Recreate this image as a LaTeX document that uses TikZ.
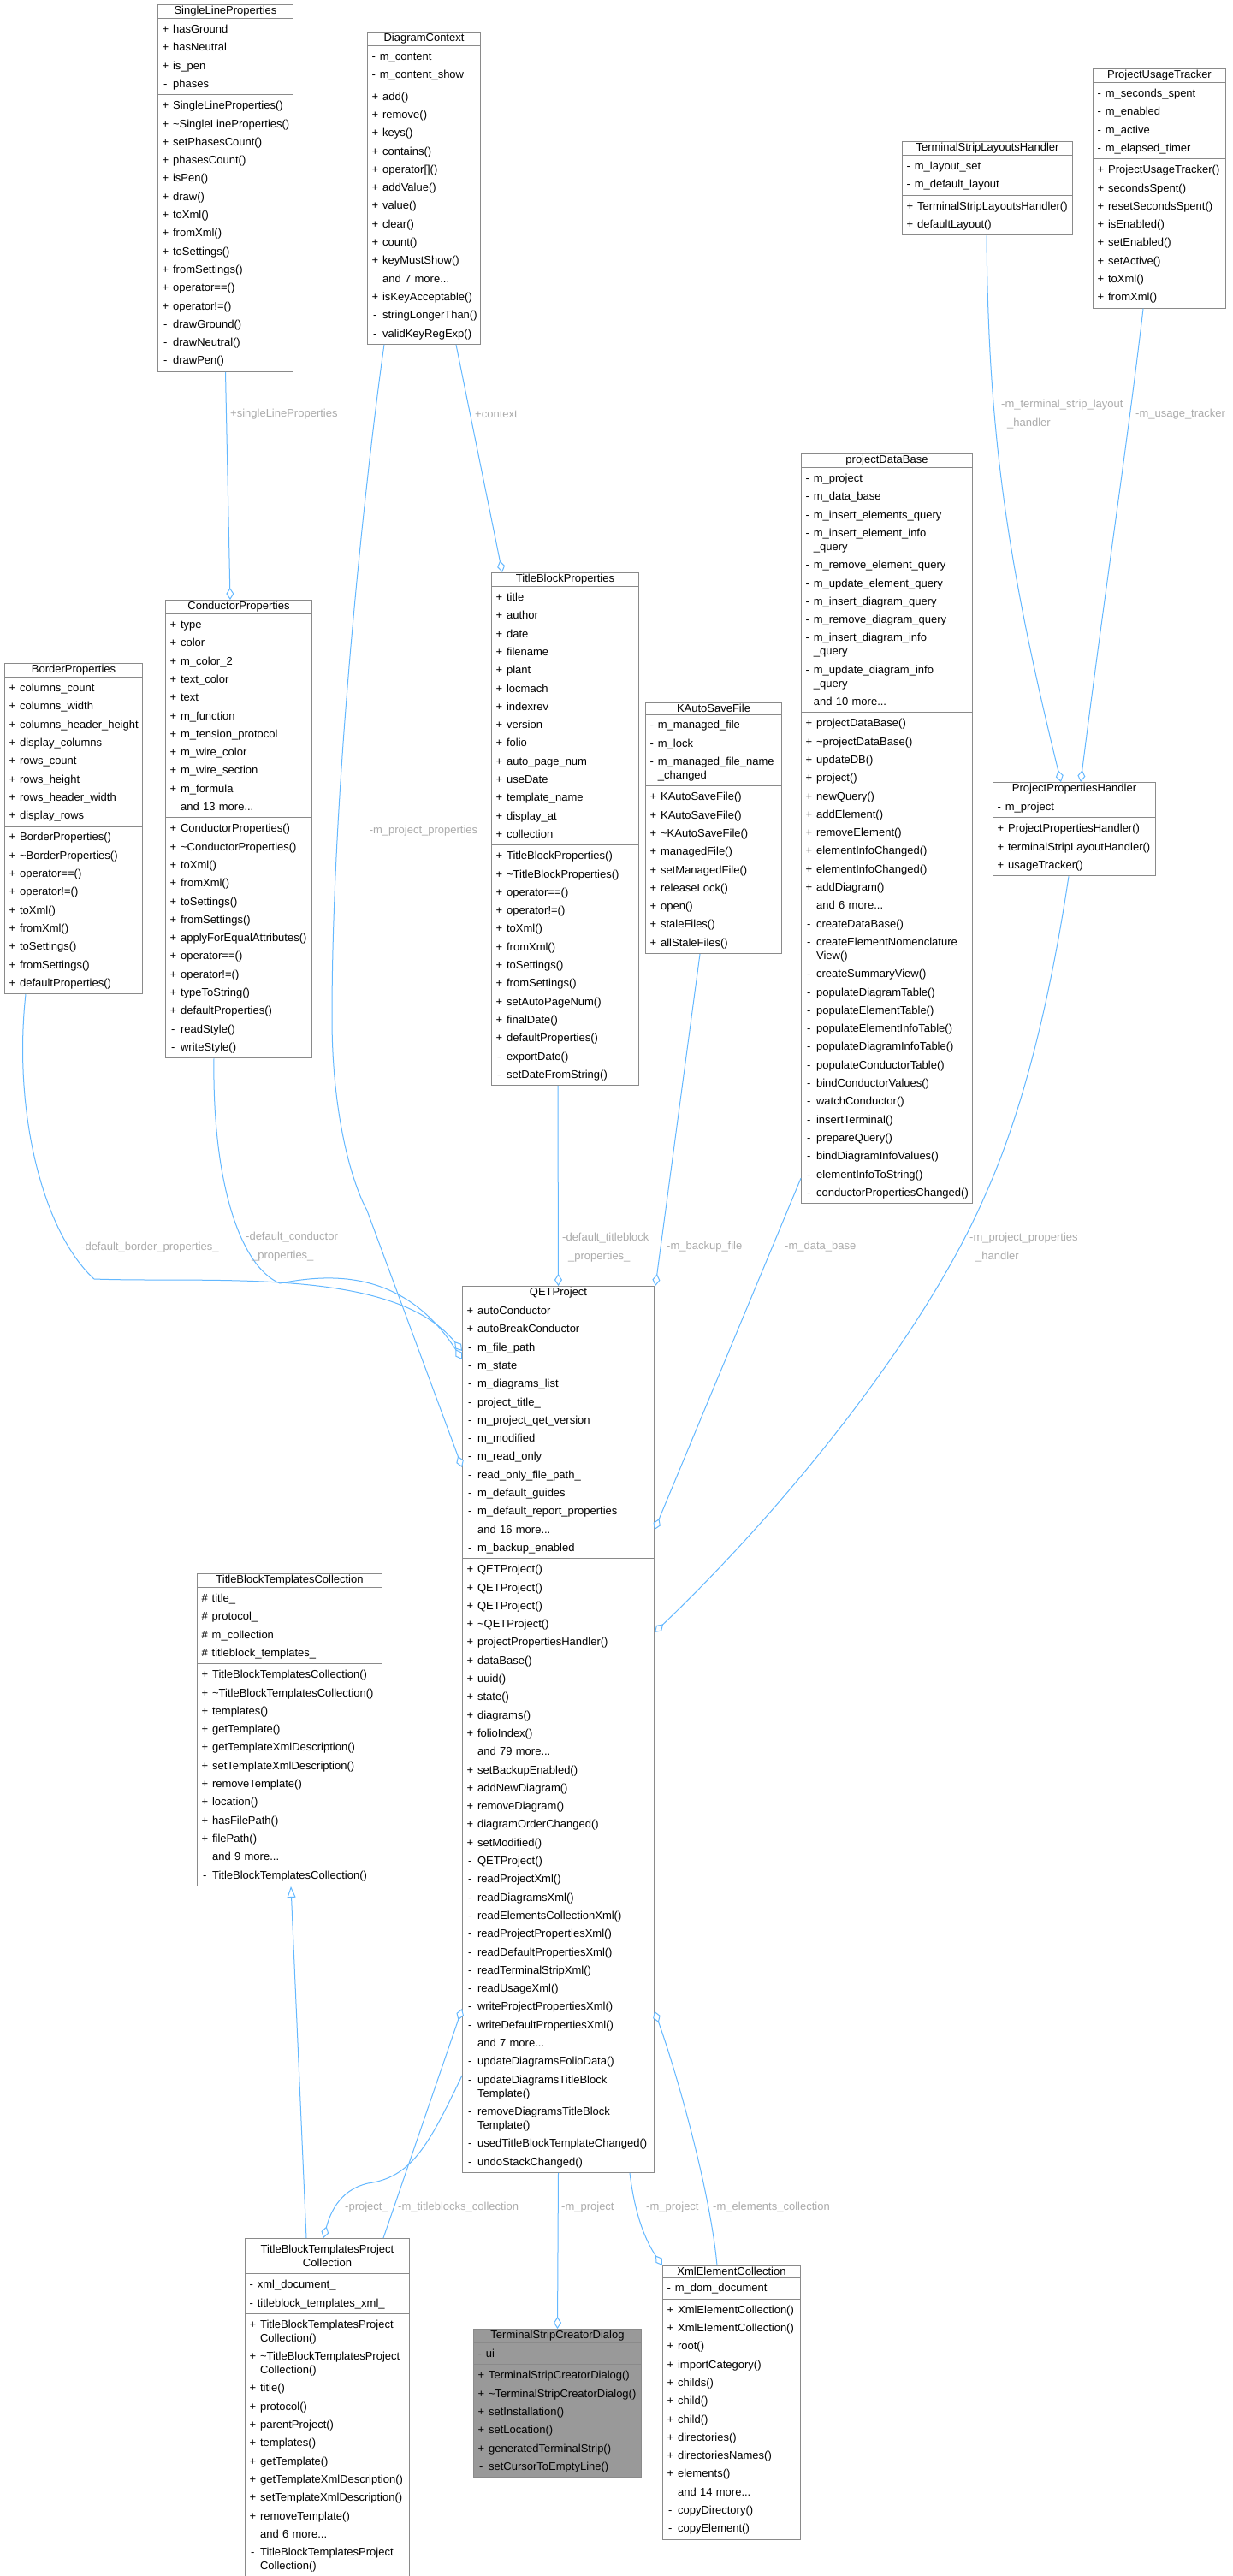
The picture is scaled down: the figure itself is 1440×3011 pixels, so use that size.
\documentclass[tikz,border=0pt]{standalone}
\usepackage{fontspec}
\setmainfont{Liberation Sans}
\usetikzlibrary{shapes.multipart,arrows.meta}
\definecolor{edgeblue}{HTML}{63B8FF}
\definecolor{lblgray}{HTML}{ABABAB}
\definecolor{boxgray}{HTML}{8A8A8A}
\definecolor{tscdgray}{HTML}{999999}
\newcommand\tld{\textasciitilde}
\newcommand\R[2]{#1 & #2\\}
\newcommand\W[3]{#1 & #2\\[-5.3pt] & #3\\}
\newcommand\M[1]{ & #1\\}
\newcommand\cls[8][]{%
\node[cls,text width=#5pt,#1] (#2) at (#3,#4) {\makebox[\linewidth]{#6}\nodepart{two}\begin{tabular}{@{}c@{\hspace{5pt}}l@{}}#7\end{tabular}\nodepart{three}\begin{tabular}{@{}c@{\hspace{5pt}}l@{}}#8\end{tabular}};}
\tikzset{
 cls/.style={rectangle split, rectangle split parts=3, draw=boxgray, line width=1pt, fill=white, anchor=north west, inner xsep=5pt, inner ysep=1.5pt, align=left, font=\fontsize{13}{21.3}\selectfont},
 agg/.style={draw=edgeblue, line width=1pt, -{Diamond[open,fill=white,length=14pt,width=9pt]}},
 inh/.style={draw=edgeblue, line width=1pt, -{Triangle[open,fill=white,length=13pt,width=10pt]}},
 lbl/.style={text=lblgray, font=\fontsize{13}{21.3}\selectfont, inner sep=0pt, align=left, anchor=west}
}
\begin{document}
\catcode`\_=12
\begin{tikzpicture}[x=1pt,y=-1pt]
\useasboundingbox[fill=white] (0,0) rectangle (1440,3011);

\cls{slp}{184}{5}{148}{SingleLineProperties}{\R{+}{hasGround}\R{+}{hasNeutral}\R{+}{is_pen}\R{-}{phases}}{\R{+}{SingleLineProperties()}\R{+}{\tld SingleLineProperties()}\R{+}{setPhasesCount()}\R{+}{phasesCount()}\R{+}{isPen()}\R{+}{draw()}\R{+}{toXml()}\R{+}{fromXml()}\R{+}{toSettings()}\R{+}{fromSettings()}\R{+}{operator==()}\R{+}{operator!=()}\R{-}{drawGround()}\R{-}{drawNeutral()}\R{-}{drawPen()}}

\cls{dc}{429}{37}{122}{DiagramContext}{\R{-}{m_content}\R{-}{m_content_show}}{\R{+}{add()}\R{+}{remove()}\R{+}{keys()}\R{+}{contains()}\R{+}{operator[]()}\R{+}{addValue()}\R{+}{value()}\R{+}{clear()}\R{+}{count()}\R{+}{keyMustShow()}\M{and 7 more...}\R{+}{isKeyAcceptable()}\R{-}{stringLongerThan()}\R{-}{validKeyRegExp()}}

\cls{tslh}{1054}{165}{189}{TerminalStripLayoutsHandler}{\R{-}{m_layout_set}\R{-}{m_default_layout}}{\R{+}{TerminalStripLayoutsHandler()}\R{+}{defaultLayout()}}

\cls{put}{1277}{80}{145}{ProjectUsageTracker}{\R{-}{m_seconds_spent}\R{-}{m_enabled}\R{-}{m_active}\R{-}{m_elapsed_timer}}{\R{+}{ProjectUsageTracker()}\R{+}{secondsSpent()}\R{+}{resetSecondsSpent()}\R{+}{isEnabled()}\R{+}{setEnabled()}\R{+}{setActive()}\R{+}{toXml()}\R{+}{fromXml()}}

\cls{bp}{5}{775}{151}{BorderProperties}{\R{+}{columns_count}\R{+}{columns_width}\R{+}{columns_header_height}\R{+}{display_columns}\R{+}{rows_count}\R{+}{rows_height}\R{+}{rows_header_width}\R{+}{display_rows}}{\R{+}{BorderProperties()}\R{+}{\tld BorderProperties()}\R{+}{operator==()}\R{+}{operator!=()}\R{+}{toXml()}\R{+}{fromXml()}\R{+}{toSettings()}\R{+}{fromSettings()}\R{+}{defaultProperties()}}

\cls{cp}{193}{701}{161}{ConductorProperties}{\R{+}{type}\R{+}{color}\R{+}{m_color_2}\R{+}{text_color}\R{+}{text}\R{+}{m_function}\R{+}{m_tension_protocol}\R{+}{m_wire_color}\R{+}{m_wire_section}\R{+}{m_formula}\M{and 13 more...}}{\R{+}{ConductorProperties()}\R{+}{\tld ConductorProperties()}\R{+}{toXml()}\R{+}{fromXml()}\R{+}{toSettings()}\R{+}{fromSettings()}\R{+}{applyForEqualAttributes()}\R{+}{operator==()}\R{+}{operator!=()}\R{+}{typeToString()}\R{+}{defaultProperties()}\R{-}{readStyle()}\R{-}{writeStyle()}}

\cls{tbp}{574}{669}{162}{TitleBlockProperties}{\R{+}{title}\R{+}{author}\R{+}{date}\R{+}{filename}\R{+}{plant}\R{+}{locmach}\R{+}{indexrev}\R{+}{version}\R{+}{folio}\R{+}{auto_page_num}\R{+}{useDate}\R{+}{template_name}\R{+}{display_at}\R{+}{collection}}{\R{+}{TitleBlockProperties()}\R{+}{\tld TitleBlockProperties()}\R{+}{operator==()}\R{+}{operator!=()}\R{+}{toXml()}\R{+}{fromXml()}\R{+}{toSettings()}\R{+}{fromSettings()}\R{+}{setAutoPageNum()}\R{+}{finalDate()}\R{+}{defaultProperties()}\R{-}{exportDate()}\R{-}{setDateFromString()}}

\cls{kasf}{754}{821}{149}{KAutoSaveFile}{\R{-}{m_managed_file}\R{-}{m_lock}\W{-}{m_managed_file_name}{_changed}}{\R{+}{KAutoSaveFile()}\R{+}{KAutoSaveFile()}\R{+}{\tld KAutoSaveFile()}\R{+}{managedFile()}\R{+}{setManagedFile()}\R{+}{releaseLock()}\R{+}{open()}\R{+}{staleFiles()}\R{+}{allStaleFiles()}}

\cls{pdb}{936}{530}{190}{projectDataBase}{\R{-}{m_project}\R{-}{m_data_base}\R{-}{m_insert_elements_query}\W{-}{m_insert_element_info}{_query}\R{-}{m_remove_element_query}\R{-}{m_update_element_query}\R{-}{m_insert_diagram_query}\R{-}{m_remove_diagram_query}\W{-}{m_insert_diagram_info}{_query}\W{-}{m_update_diagram_info}{_query}\M{and 10 more...}}{\R{+}{projectDataBase()}\R{+}{\tld projectDataBase()}\R{+}{updateDB()}\R{+}{project()}\R{+}{newQuery()}\R{+}{addElement()}\R{+}{removeElement()}\R{+}{elementInfoChanged()}\R{+}{elementInfoChanged()}\R{+}{addDiagram()}\M{and 6 more...}\R{-}{createDataBase()}\W{-}{createElementNomenclature}{View()}\R{-}{createSummaryView()}\R{-}{populateDiagramTable()}\R{-}{populateElementTable()}\R{-}{populateElementInfoTable()}\R{-}{populateDiagramInfoTable()}\R{-}{populateConductorTable()}\R{-}{bindConductorValues()}\R{-}{watchConductor()}\R{-}{insertTerminal()}\R{-}{prepareQuery()}\R{-}{bindDiagramInfoValues()}\R{-}{elementInfoToString()}\R{-}{conductorPropertiesChanged()}}

\cls{pph}{1160}{914}{180}{ProjectPropertiesHandler}{\R{-}{m_project}}{\R{+}{ProjectPropertiesHandler()}\R{+}{terminalStripLayoutHandler()}\R{+}{usageTracker()}}

\cls{qet}{540}{1503}{214}{QETProject}{\R{+}{autoConductor}\R{+}{autoBreakConductor}\R{-}{m_file_path}\R{-}{m_state}\R{-}{m_diagrams_list}\R{-}{project_title_}\R{-}{m_project_qet_version}\R{-}{m_modified}\R{-}{m_read_only}\R{-}{read_only_file_path_}\R{-}{m_default_guides}\R{-}{m_default_report_properties}\M{and 16 more...}\R{-}{m_backup_enabled}}{\R{+}{QETProject()}\R{+}{QETProject()}\R{+}{QETProject()}\R{+}{\tld QETProject()}\R{+}{projectPropertiesHandler()}\R{+}{dataBase()}\R{+}{uuid()}\R{+}{state()}\R{+}{diagrams()}\R{+}{folioIndex()}\M{and 79 more...}\R{+}{setBackupEnabled()}\R{+}{addNewDiagram()}\R{+}{removeDiagram()}\R{+}{diagramOrderChanged()}\R{+}{setModified()}\R{-}{QETProject()}\R{-}{readProjectXml()}\R{-}{readDiagramsXml()}\R{-}{readElementsCollectionXml()}\R{-}{readProjectPropertiesXml()}\R{-}{readDefaultPropertiesXml()}\R{-}{readTerminalStripXml()}\R{-}{readUsageXml()}\R{-}{writeProjectPropertiesXml()}\R{-}{writeDefaultPropertiesXml()}\M{and 7 more...}\R{-}{updateDiagramsFolioData()}\W{-}{updateDiagramsTitleBlock}{Template()}\W{-}{removeDiagramsTitleBlock}{Template()}\R{-}{usedTitleBlockTemplateChanged()}\R{-}{undoStackChanged()}}

\cls{tbtc}{230}{1839}{206}{TitleBlockTemplatesCollection}{\R{\#}{title_}\R{\#}{protocol_}\R{\#}{m_collection}\R{\#}{titleblock_templates_}}{\R{+}{TitleBlockTemplatesCollection()}\R{+}{\tld TitleBlockTemplatesCollection()}\R{+}{templates()}\R{+}{getTemplate()}\R{+}{getTemplateXmlDescription()}\R{+}{setTemplateXmlDescription()}\R{+}{removeTemplate()}\R{+}{location()}\R{+}{hasFilePath()}\R{+}{filePath()}\M{and 9 more...}\R{-}{TitleBlockTemplatesCollection()}}

\cls{tbtpc}{286}{2616}{182}{\begin{tabular}{@{}c@{}}TitleBlockTemplatesProject\\[-5.3pt]Collection\end{tabular}}{\R{-}{xml_document_}\R{-}{titleblock_templates_xml_}}{\W{+}{TitleBlockTemplatesProject}{Collection()}\W{+}{\tld TitleBlockTemplatesProject}{Collection()}\R{+}{title()}\R{+}{protocol()}\R{+}{parentProject()}\R{+}{templates()}\R{+}{getTemplate()}\R{+}{getTemplateXmlDescription()}\R{+}{setTemplateXmlDescription()}\R{+}{removeTemplate()}\M{and 6 more...}\W{-}{TitleBlockTemplatesProject}{Collection()}}

\cls[fill=tscdgray]{tscd}{553}{2722}{186}{TerminalStripCreatorDialog}{\R{-}{ui}}{\R{+}{TerminalStripCreatorDialog()}\R{+}{\tld TerminalStripCreatorDialog()}\R{+}{setInstallation()}\R{+}{setLocation()}\R{+}{generatedTerminalStrip()}\R{-}{setCursorToEmptyLine()}}

\cls{xec}{774}{2648}{151}{XmlElementCollection}{\R{-}{m_dom_document}}{\R{+}{XmlElementCollection()}\R{+}{XmlElementCollection()}\R{+}{root()}\R{+}{importCategory()}\R{+}{childs()}\R{+}{child()}\R{+}{child()}\R{+}{directories()}\R{+}{directoriesNames()}\R{+}{elements()}\M{and 14 more...}\R{-}{copyDirectory()}\R{-}{copyElement()}}

% connectors
\draw[agg] (slp.south) -- ([xshift=76pt]cp.north west);
\draw[agg] ([xshift=20pt]dc.south west) .. controls (432,520) and (388,900) .. (388,1190) .. controls (388,1300) and (410,1380) .. (429,1415) -- ([yshift=-212pt]qet.north west);
\draw[agg] ([xshift=104pt]dc.south west) -- ([xshift=13pt]tbp.north west);
\draw[agg] ([xshift=25pt]bp.south west) .. controls (15,1300) and (50,1440) .. (110,1495) .. controls (250,1500) and (460,1480) .. ([yshift=-76pt]qet.north west);
\draw[agg] ([xshift=57pt]cp.south west) .. controls (248,1380) and (280,1480) .. (327,1500) .. controls (380,1490) and (470,1480) .. ([yshift=-86pt]qet.north west);
\draw[agg] ([xshift=78pt]tbp.south west) -- (qet.north);
\draw[agg] ([xshift=64pt]kasf.south west) -- ([xshift=1pt]qet.north east);
\draw[agg] ([yshift=30pt]pdb.south west) -- ([yshift=-285pt]qet.north east);
\draw[agg] ([xshift=89pt]pph.south west) .. controls (1230,1150) and (1200,1290) .. (1150,1400) .. controls (1080,1560) and (920,1760) .. ([yshift=-405pt]qet.north east);
\draw[agg] ([xshift=99pt]tslh.south west) .. controls (1155,500) and (1175,650) .. ([xshift=80pt]pph.north west);
\draw[agg] ([xshift=59pt]put.south west) .. controls (1320,500) and (1290,700) .. ([xshift=103pt]pph.north west);
\draw[agg] (qet.south) -- (tscd.north);
\draw[agg] ([yshift=114pt]qet.south west) .. controls (500,2510) and (480,2545) .. (430,2552) .. controls (395,2560) and (385,2590) .. ([xshift=92pt]tbtpc.north west);
\draw[agg] ([xshift=162pt]tbtpc.north west) -- ([yshift=192pt]qet.south west);
\draw[agg] ([xshift=64pt]xec.north west) .. controls (830,2560) and (790,2420) .. ([yshift=189pt]qet.south east);
\draw[agg] ([xshift=196pt]qet.south west) .. controls (742,2590) and (755,2620) .. (xec.north west);
\draw[inh] ([xshift=72pt]tbtpc.north west) -- ([xshift=110pt]tbtc.south west);

% labels
\node[lbl] (l1) at (269,484) {+singleLineProperties};
\node[lbl,anchor=center] (l2) at (495,971) {-m_project_properties};
\node[lbl] (l3) at (555,484) {+context};
\node[lbl] (l4) at (95,1458) {-default_border_properties_};
\node[lbl] (l5) at (287,1457) {-default_conductor\\\hspace{7pt}_properties_};
\node[lbl] (l6) at (657,1458) {-default_titleblock\\\hspace{7pt}_properties_};
\node[lbl] (l7) at (779,1457) {-m_backup_file};
\node[lbl] (l8) at (917,1457) {-m_data_base};
\node[lbl] (l9) at (1133,1458) {-m_project_properties\\\hspace{7pt}_handler};
\node[lbl] (l10) at (1170,484) {-m_terminal_strip_layout\\\hspace{7pt}_handler};
\node[lbl] (l11) at (1327,484) {-m_usage_tracker};
\node[lbl] (l12) at (403,2580) {-project_};
\node[lbl] (l13) at (465,2580) {-m_titleblocks_collection};
\node[lbl] (l14) at (656,2580) {-m_project};
\node[lbl] (l15) at (755,2580) {-m_project};
\node[lbl] (l16) at (833,2580) {-m_elements_collection};
\end{tikzpicture}
\end{document}
